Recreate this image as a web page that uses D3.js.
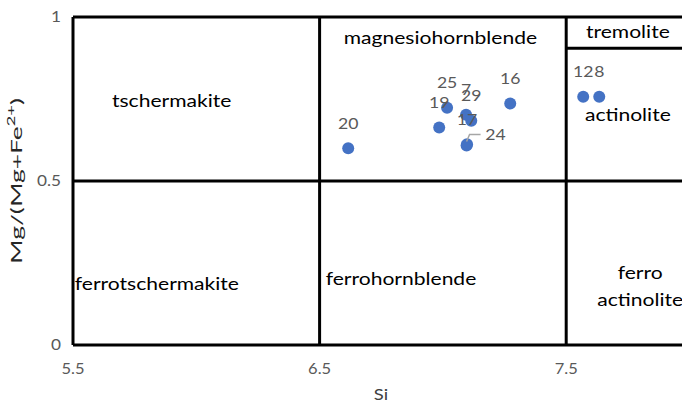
<!DOCTYPE html>
<html><head><meta charset="utf-8">
<script src="https://cdn.jsdelivr.net/npm/d3@7"></script>
<style>body{margin:0;background:#fff}svg{display:block}</style>
</head><body><svg id="c" width="682" height="407"></svg>
<script>
const pointNames = ["20","19","25","7","29","17","24","16","12","8"];
const siValues   = [6.616,6.985,7.017,7.094,7.115,7.098,7.096,7.273,7.569,7.634];
const mgValues   = [0.600,0.663,0.723,0.702,0.684,0.612,0.608,0.736,0.757,0.757];
const xTicks = [5.5,6.5,7.5];
const yTicks = [0,0.5,1];
const fields = ["tschermakite","magnesiohornblende","tremolite","actinolite","ferrotschermakite","ferrohornblende","ferro|actinolite"];
const fieldSi = [5.9,6.99,7.75,7.75,5.84,6.83,7.8];
const fieldMg = [0.745,0.935,0.955,0.7,0.185,0.2,0.19];
const vLinesSi = [6.5,7.5];
const hLinesMg = [0.5];

const svg = d3.select("#c");
const x = d3.scaleLinear().domain([5.5,8]).range([73,689.5]);
const y = d3.scaleLinear().domain([0,1]).range([345,17]);
const font = "Lato, 'Open Sans', sans-serif";
const STRETCH = 1.24;

// frame lines
const g = svg.append("g").attr("stroke","#000").attr("stroke-width",3).attr("fill","none");
g.append("line").attr("x1",x(5.5)).attr("x2",x(5.5)).attr("y1",y(0)).attr("y2",y(1));
g.append("line").attr("x1",x(5.5)).attr("x2",x(8)).attr("y1",y(1)).attr("y2",y(1));
g.append("line").attr("x1",x(5.5)).attr("x2",x(8)).attr("y1",y(0)).attr("y2",y(0));
vLinesSi.forEach(v=>g.append("line").attr("x1",x(v)).attr("x2",x(v)).attr("y1",y(0)).attr("y2",y(1)));
hLinesMg.forEach(v=>g.append("line").attr("x1",x(5.5)).attr("x2",x(8)).attr("y1",y(v)).attr("y2",y(v)));
g.append("line").attr("x1",x(7.5)).attr("x2",x(8)).attr("y1",y(0.905)).attr("y2",y(0.905));

// axes tick labels
svg.append("g").selectAll("text").data(yTicks).join("text")
  .attr("transform",d=>`translate(61,${y(d)}) scale(1.15,1)`).attr("dy","0.35em").attr("text-anchor","end")
  .attr("font-family",font).attr("font-size",15).attr("fill","#595959").text(d=>d);
svg.append("g").selectAll("text").data(xTicks).join("text")
  .attr("transform",d=>`translate(${x(d)},369) scale(1.1,1)`).attr("dy","0.35em").attr("text-anchor","middle")
  .attr("font-family",font).attr("font-size",15).attr("fill","#595959").text(d=>d);
svg.append("text").attr("transform","translate(381,400) scale(1.15,1)").attr("text-anchor","middle")
  .attr("font-family",font).attr("font-size",16).attr("fill","#404040").text("Si");
const yt = svg.append("text").attr("text-anchor","middle")
  .attr("font-family",font).attr("font-size",16).attr("fill","#262626");
yt.append("tspan").text("Mg/(Mg+Fe");
yt.append("tspan").attr("font-size",11).attr("dy",-7).text("2+");
yt.append("tspan").attr("dy",7).text(")");
const yl = yt.node().getComputedTextLength();
yt.attr("transform",`translate(22,181) rotate(-90) scale(${166/yl},1)`);

// field labels
fields.forEach((f,i)=>{
  const lines = f.split("|");
  const t = svg.append("text")
    .attr("transform",`translate(${x(fieldSi[i])},${y(fieldMg[i])}) scale(${STRETCH},1)`)
    .attr("text-anchor","middle").attr("font-family",font).attr("font-size",17).attr("fill","#000");
  lines.forEach((l,j)=>t.append("tspan").attr("x",0).attr("dy", j===0 ? (lines.length>1?"-0.2em":"0.35em") : "1.6em").text(l));
});

// points
const pts = pointNames.map((n,i)=>({n, si:siValues[i], mg:mgValues[i]}));
svg.append("g").selectAll("circle").data(pts).join("circle")
  .attr("cx",d=>x(d.si)).attr("cy",d=>y(d.mg)).attr("r",6).attr("fill","#4472C4");

// labels
const moved = {"24":[29,-11]};
pts.forEach(d=>{
  const px = x(d.si), py = y(d.mg);
  if (moved[d.n]) {
    const [dx,dy] = moved[d.n];
    svg.append("path").attr("d",`M${px},${py-4}L${px+3},${py+dy}L${px+14},${py+dy}`)
      .attr("stroke","#a6a6a6").attr("stroke-width",1.5).attr("fill","none");
    svg.append("text").attr("transform",`translate(${px+dx},${py+dy}) scale(1.1,1)`).attr("dy","0.35em").attr("text-anchor","middle")
      .attr("font-family",font).attr("font-size",16).attr("fill","#595959").text(d.n);
  } else {
    svg.append("text").attr("transform",`translate(${px},${py-25}) scale(1.1,1)`).attr("dy","0.35em").attr("text-anchor","middle")
      .attr("font-family",font).attr("font-size",16).attr("fill","#595959").text(d.n);
  }
});
</script></body></html>
